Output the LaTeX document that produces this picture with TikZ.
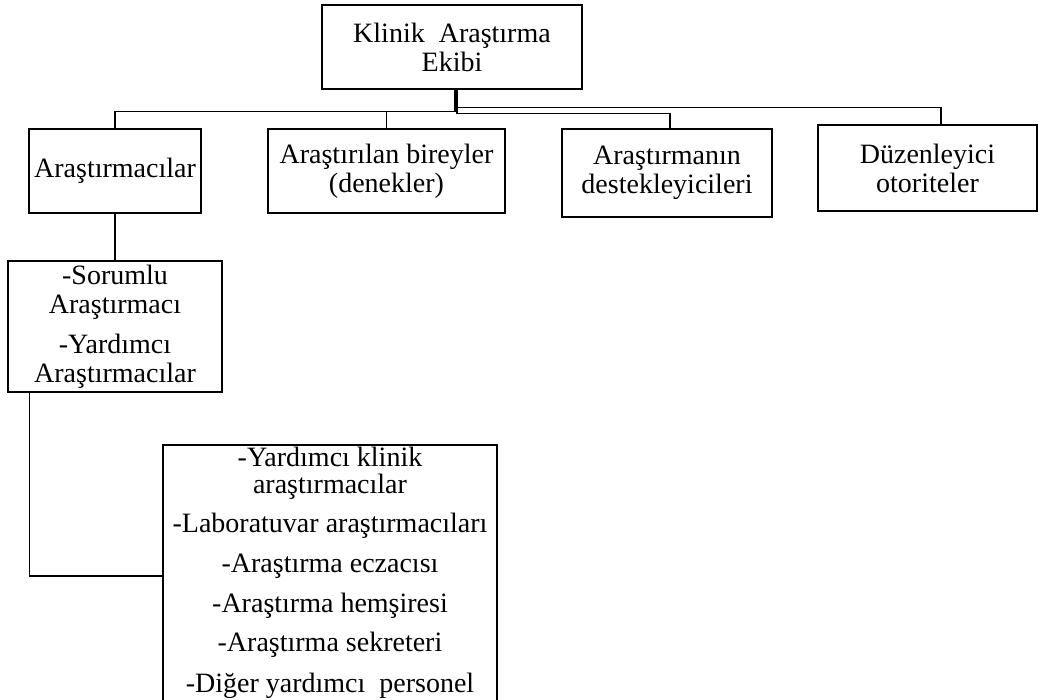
\documentclass[tikz,border=0pt]{standalone}
\usepackage{fontspec}
\setmainfont{Liberation Serif}
\newcommand{\fs}{\fontsize{28}{29}\selectfont}
\begin{document}
\begin{tikzpicture}[x=1pt,y=-1pt,
  box/.style={draw,line width=1.5pt,inner sep=0pt,align=center,font=\fs},
  txt/.style={inner sep=0pt,align=center,font=\fs},
  ln/.style={line width=1.4pt}]
\useasboundingbox (0,0) rectangle (1040,699);
\clip (0,0) rectangle (1040,699);
\node[box,minimum width=260pt,minimum height=84pt] (top) at (452,47) {Klinik~ Araştırma\\Ekibi};
\node[box,minimum width=172pt,minimum height=84pt] (a1) at (115,171) {Araştırmacılar};
\node[box,minimum width=237pt,minimum height=84pt] (a2) at (386.5,171) {Araştırılan bireyler\\(denekler)};
\node[box,minimum width=210pt,minimum height=88pt] (a3) at (667,173) {Araştırmanın\\destekleyicileri};
\node[box,minimum width=219pt,minimum height=86pt] (a4) at (927.5,168) {Düzenleyici\\otoriteler};
\node[box,minimum width=214pt,minimum height=131pt] (s) at (115,326.5) {-Sorumlu\\Araştırmacı\\[11pt]-Yardımcı\\Araştırmacılar};
\node[box,minimum width=334pt,minimum height=262pt] (b) at (330,576) {};
\node[txt,anchor=north] (bt) at (330,447) {-Yardımcı klinik\\[-2pt]araştırmacılar\\[10pt]-Laboratuvar araştırmacıları\\[11pt]-Araştırma eczacısı\\[11pt]-Araştırma hemşiresi\\[10pt]-Araştırma sekreteri\\[12pt]-Diğer yardımcı~ personel};
% connectors
\draw[ln] ([xshift=3pt]top.south) -- ++(0,22) -| (a1.north);
\draw[ln] ([xshift=3pt,yshift=-22pt]top.south) -| (a2.north);
\draw[ln] ([xshift=5pt]top.south) -- ++(0,18) -| ([xshift=13.5pt]a4.north);
\draw[ln] ([xshift=5pt]top.south) -- ++(0,24) -| ([xshift=3pt]a3.north);
\draw[ln] (a1.south) -- (a1.south |- s.north);
\draw[ln] ([xshift=22pt]s.south west) |- (b.west);
\end{tikzpicture}
\end{document}
